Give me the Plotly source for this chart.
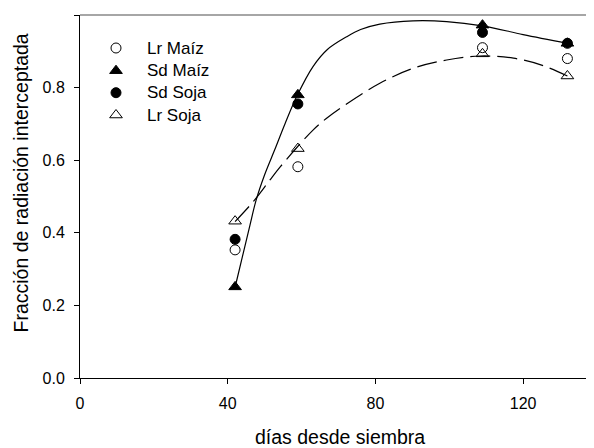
import plotly.graph_objects as go

# Data
days = [42, 59, 109, 132]
lr_maiz = [0.353, 0.582, 0.910, 0.880]
sd_maiz = [0.251, 0.780, 0.972, 0.922]
sd_soja = [0.382, 0.755, 0.952, 0.922]
lr_soja = [0.432, 0.632, 0.893, 0.832]

# Fitted curves
sd_fit_x = [42, 44, 46, 47.7, 50, 52.7, 55.5, 58.9, 63.1, 67, 72.2, 76, 81.2, 90.2, 99.3, 109, 120, 132]
sd_fit_y = [0.25, 0.335, 0.42, 0.49, 0.56, 0.628, 0.70, 0.78, 0.858, 0.905, 0.940, 0.960, 0.975, 0.984, 0.982, 0.970, 0.946, 0.922]
lr_fit_x = [42, 47.1, 51.4, 54.1, 58.9, 63.1, 66.7, 72.2, 81.2, 90.2, 99.3, 108.3, 117.4, 125, 132]
lr_fit_y = [0.431, 0.488, 0.545, 0.58, 0.637, 0.683, 0.715, 0.755, 0.812, 0.853, 0.876, 0.887, 0.881, 0.862, 0.832]

x_ticks = [0, 40, 80, 120]
y_ticks = [0.0, 0.2, 0.4, 0.6, 0.8, 1.0]
y_tick_text = ["0.0", "0.2", "0.4", "0.6", "0.8", "1.0"]

series_names = ["Lr Maíz", "Sd Maíz", "Sd Soja", "Lr Soja"]
series_values = [lr_maiz, sd_maiz, sd_soja, lr_soja]
series_symbols = ["circle-open", "triangle-up", "circle", "triangle-up-open"]
series_sizes = [10, 11, 10, 11]

FONT = "Liberation Sans, Arial, sans-serif"

# page body has an 8px margin: figure sized to fit inside the 594x448 window
W, H = 586, 440
ML, MT, MB = 72, 7, 70
PW = W - ML
PH = H - MT - MB

def px_x(wx):  # window pixel -> paper x
    return (wx - 80) / PW

def px_y(wy):  # window pixel -> paper y
    return (378 - wy) / PH

fig = go.Figure()
fig.add_trace(go.Scatter(x=sd_fit_x, y=sd_fit_y, mode="lines",
                         line=dict(color="black", width=1.2, shape="spline"),
                         showlegend=False, hoverinfo="skip"))
fig.add_trace(go.Scatter(x=lr_fit_x, y=lr_fit_y, mode="lines",
                         line=dict(color="black", width=1.2, shape="spline", dash="20px,7px"),
                         showlegend=False, hoverinfo="skip"))

for name, vals, sym, sz in zip(series_names, series_values, series_symbols, series_sizes):
    fig.add_trace(go.Scatter(x=days, y=vals, mode="markers", name=name, showlegend=False,
                             marker=dict(symbol=sym, size=sz, color="black", line=dict(width=1, color="black"))))

# manual legend (symbols on an overlay axis spanning the plot area, labels as annotations)
legend_rows = [48, 70.7, 92.7, 115]
annotations = []
for name, sym, sz, ry in zip(series_names, series_symbols, series_sizes, legend_rows):
    fig.add_trace(go.Scatter(x=[px_x(116)], y=[px_y(ry)], xaxis="x2", yaxis="y2", mode="markers",
                             showlegend=False, hoverinfo="skip",
                             marker=dict(symbol=sym, size=sz, color="black", line=dict(width=1, color="black"))))
    annotations.append(dict(text=name, xref="paper", yref="paper", x=px_x(145), y=px_y(ry),
                            xanchor="left", yanchor="middle", showarrow=False,
                            font=dict(size=17, family=FONT, color="black")))

annotations += [
    dict(text="días desde siembra", xref="paper", yref="paper", x=px_x(340), y=px_y(437),
         xanchor="center", yanchor="middle", showarrow=False, font=dict(size=19.5)),
    dict(text="Fracción de radiación interceptada", xref="paper", yref="paper",
         x=px_x(20), y=px_y(183.5), xanchor="center", yanchor="middle",
         textangle=-90, showarrow=False, font=dict(size=19.5)),
]

fig.update_layout(
    width=W, height=H,
    margin=dict(l=ML, r=0, t=MT, b=MB, pad=0),
    plot_bgcolor="white", paper_bgcolor="white",
    font=dict(family=FONT, size=16, color="black"),
    showlegend=False,
    xaxis=dict(range=[0, 139.2], tickvals=x_ticks, ticks="outside", ticklen=5, tickcolor="black",
               showline=True, linecolor="black", linewidth=1, showgrid=False, zeroline=False,
               tickfont=dict(size=16), ticklabelstandoff=6),
    yaxis=dict(range=[0, 1.0], tickvals=y_ticks, ticktext=y_tick_text, ticks="outside", ticklen=5,
               tickcolor="black", showline=True, linecolor="black", linewidth=1, showgrid=False,
               zeroline=False, tickfont=dict(size=16), ticklabelstandoff=6),
    xaxis2=dict(range=[0, 1], overlaying="x", visible=False, fixedrange=True),
    yaxis2=dict(range=[0, 1], overlaying="y", visible=False, fixedrange=True),
    shapes=[dict(type="line", xref="paper", yref="paper", x0=0, x1=1, y0=1, y1=1,
                 line=dict(color="#888888", width=1.5))],
    annotations=annotations,
)

fig.write_html("out.html")
